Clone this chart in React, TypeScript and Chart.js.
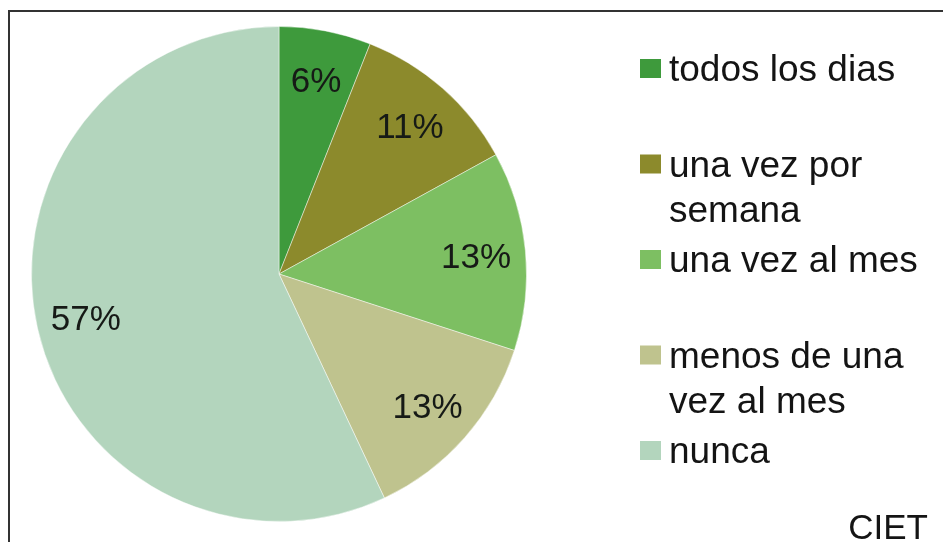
import React, { useEffect, useRef } from "react";
import { Chart, registerables } from "chart.js";

Chart.register(...registerables);

const categories: string[][] = [
  ["todos los dias"],
  ["una vez por", "semana"],
  ["una vez al mes"],
  ["menos de una", "vez al mes"],
  ["nunca"],
];
const values: number[] = [6, 11, 13, 13, 57];
const colors: string[] = ["#3e9a3c", "#8c8a2c", "#7dbf62", "#bfc38e", "#b3d5bd"];
const sourceLabel = "CIET";

const FONT = "'Liberation Sans', Arial, sans-serif";

const overlayPlugin = {
  id: "overlay",
  afterDatasetsDraw(chart: any) {
    const ctx = chart.ctx as CanvasRenderingContext2D;
    const meta = chart.getDatasetMeta(0);
    const data = chart.data.datasets[0].data as number[];
    ctx.save();
    ctx.fillStyle = "#161a16";
    ctx.font = `35px ${FONT}`;
    ctx.textAlign = "center";
    ctx.textBaseline = "middle";
    meta.data.forEach((arc: any, i: number) => {
      const p = arc.getProps(["x", "y", "startAngle", "endAngle", "outerRadius"], true);
      const mid = (p.startAngle + p.endAngle) / 2;
      const r = p.outerRadius * 0.8;
      ctx.fillText(`${data[i]}%`, p.x + Math.cos(mid) * r, p.y + Math.sin(mid) * r + 3);
    });

    // legend
    const labels = chart.data.labels as string[][];
    const bg = chart.data.datasets[0].backgroundColor as string[];
    ctx.font = `37px ${FONT}`;
    ctx.textAlign = "left";
    ctx.textBaseline = "alphabetic";
    labels.forEach((lines, i) => {
      const base = 81 + 95.5 * i;
      ctx.fillStyle = bg[i];
      ctx.fillRect(640, base - 22, 21, 19);
      ctx.fillStyle = "#141414";
      lines.forEach((line, j) => {
        ctx.fillText(line, 669, base + j * 45);
      });
    });

    ctx.font = `35px ${FONT}`;
    ctx.textAlign = "right";
    ctx.fillText(sourceLabel, 928, 539);
    ctx.restore();
  },
};

export default function App() {
  const ref = useRef<HTMLCanvasElement | null>(null);
  useEffect(() => {
    if (!ref.current) return;
    const chart = new Chart(ref.current, {
      type: "pie",
      data: {
        labels: categories,
        datasets: [
          {
            data: values,
            backgroundColor: colors,
            borderColor: "rgba(255,255,255,0.45)",
            borderWidth: 1,
          },
        ],
      },
      options: {
        animation: false,
        responsive: false,
        maintainAspectRatio: false,
        layout: { padding: { left: 31, top: 26, right: 416, bottom: 20 } },
        plugins: {
          legend: { display: false },
          tooltip: { enabled: false },
        },
      },
      plugins: [overlayPlugin],
    });
    return () => chart.destroy();
  }, []);

  return (
    <div style={{ position: "fixed", left: 0, top: 0, width: 943, height: 542, background: "#fff", overflow: "hidden" }}>
      <div style={{ position: "absolute", left: 8, top: 10, right: 0, height: 2, background: "#333" }} />
      <div style={{ position: "absolute", left: 8, top: 10, width: 2, bottom: 0, background: "#333" }} />
      <canvas ref={ref} width={943} height={542} style={{ position: "absolute", left: 0, top: 0, width: 943, height: 542 }} />
    </div>
  );
}
